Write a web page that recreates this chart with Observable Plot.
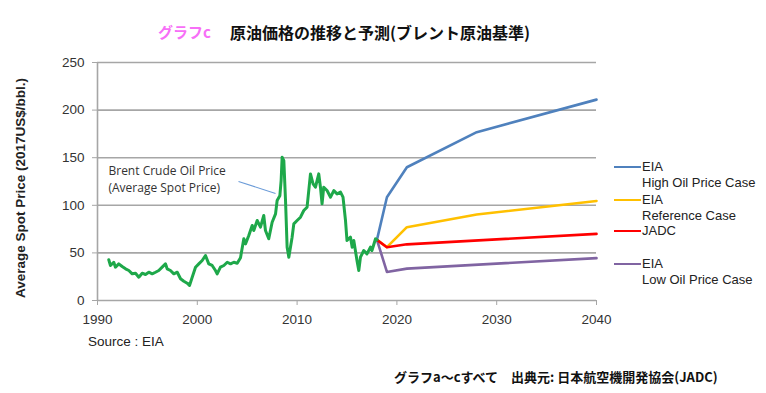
<!DOCTYPE html>
<html>
<head>
<meta charset="utf-8">
<script src="https://cdn.jsdelivr.net/npm/d3@7"></script>
<script src="https://cdn.jsdelivr.net/npm/@observablehq/plot@0.6"></script>
<style>
  html, body { margin: 0; padding: 0; background: #fff; }
  #wrap { position: relative; width: 766px; height: 393px; overflow: hidden; }
  #wrap svg { position: absolute; left: 0; top: 0; }
  .abs { position: absolute; white-space: nowrap; }
  .ttl { font-family: "Noto Sans CJK JP", sans-serif; font-weight: bold; }
  .leg { font-family: "Liberation Sans", Arial, sans-serif; font-size: 13px; color: #222; line-height: 15.5px; }
</style>
</head>
<body>
<div id="wrap"></div>
<script>
// ---- data ----
const brentYears = [1991.13,1991.30,1991.63,1991.80,1992.13,1992.47,1992.81,1993.14,1993.48,1993.81,1994.14,1994.48,1994.81,1995.14,1995.48,1995.81,1996.14,1996.48,1996.81,1996.98,1997.31,1997.65,1997.99,1998.32,1998.65,1998.99,1999.22,1999.49,1999.82,2000.15,2000.49,2000.82,2001.15,2001.49,2001.82,2001.99,2002.32,2002.66,2003.00,2003.33,2003.66,2004.00,2004.33,2004.66,2004.83,2005.16,2005.5,2005.66,2006.0,2006.33,2006.66,2006.83,2007.16,2007.5,2007.84,2008.0,2008.27,2008.4,2008.5,2008.67,2008.84,2009.0,2009.17,2009.5,2009.67,2010.0,2010.34,2010.67,2011.0,2011.34,2011.6,2011.84,2012.17,2012.34,2012.5,2012.67,2013.0,2013.35,2013.68,2014.0,2014.35,2014.6,2014.85,2015.0,2015.35,2015.52,2015.68,2016.0,2016.18,2016.35,2016.68,2017.0,2017.35,2017.5,2017.86,2018.0];
const brentValues = [42.8,36.8,40.2,35.0,38.5,35.7,33.3,31.5,28.0,28.7,24.5,28.7,27.3,29.7,28.0,29.7,31.5,35.0,38.5,33.3,31.5,28.0,29.7,22.8,20.3,18.2,15.8,24.5,35.0,38.5,42.0,47.3,38.5,36.8,31.5,28.0,35.0,36.8,40.2,38.5,40.2,39.2,45,64.8,59.5,68.3,78.8,73.5,84,77,89.3,73.5,64.8,82.2,91,105,110,126,150.5,147,105,56,45.5,66.5,80.5,84,87.5,94.5,98,133,122.6,119,133,119,101.6,119,115.5,108.5,115.5,112,113.8,108.5,84,63,66.5,56,63,42,31.5,45.5,52.5,49,56,52.5,64.8,63.7];

const projYears = {
  high: [2018, 2019, 2021, 2028, 2040],
  ref:  [2018, 2019, 2021, 2028, 2040],
  jadc: [2018, 2019, 2021, 2040],
  low:  [2018, 2019, 2021, 2040]
};
const highValues = [63.7, 108.5, 140, 176.8, 211];
const refValues  = [63.7, 56, 77, 90.3, 104.5];
const jadcValues = [63.7, 56, 59, 70];
const lowValues  = [63.7, 30, 33.5, 44.5];

const seriesNames = ["EIA\nHigh Oil Price Case", "EIA\nReference Case", "JADC", "EIA\nLow Oil Price Case"];
const seriesColors = ["#4f81bd", "#ffc000", "#ff0000", "#8064a2"];

const xTicks = [1990, 2000, 2010, 2020, 2030, 2040];
const yTicks = [0, 50, 100, 150, 200, 250];

const annotationText = ["Brent Crude Oil Price\n(Average Spot Price)"];
const annotationAt = {x: 1991.1, y: 128.5};
const pointer = [{x1: 2004.13, y1: 125, x2: 2007.84, y2: 112.4}];

// ---- tables ----
const brent = brentYears.map((x, i) => ({x, y: brentValues[i]}));
const mk = (ys, vs) => ys.map((x, i) => ({x, y: vs[i]}));
const high = mk(projYears.high, highValues);
const ref = mk(projYears.ref, refValues);
const jadc = mk(projYears.jadc, jadcValues);
const low = mk(projYears.low, lowValues);

const chart = Plot.plot({
  width: 766,
  height: 393,
  marginLeft: 97,
  marginRight: 170,
  marginTop: 62,
  marginBottom: 93,
  style: {fontFamily: "'Liberation Sans', Arial, sans-serif", fontSize: "13px", background: "transparent"},
  x: {domain: [1990, 2040]},
  y: {domain: [0, 250]},
  marks: [
    Plot.gridY(yTicks.slice(1), {stroke: "#a6a6a6", strokeOpacity: 1, strokeWidth: 1.6}),
    Plot.ruleY([0], {stroke: "#a6a6a6", strokeWidth: 1.6}),
    Plot.ruleX([1990], {stroke: "#a6a6a6", strokeWidth: 1.6}),
    Plot.axisY({ticks: yTicks, tickSize: 5, tickPadding: 8, stroke: "#a6a6a6", fill: "#333", fontSize: 13.5, label: null}),
    Plot.axisX({ticks: xTicks, tickSize: 5, tickPadding: 9, stroke: "#a6a6a6", fill: "#333", fontSize: 13.5, tickFormat: d => String(d), label: null}),
    Plot.line(ref, {x: "x", y: "y", stroke: seriesColors[1], strokeWidth: 2.6}),
    Plot.line(high, {x: "x", y: "y", stroke: seriesColors[0], strokeWidth: 2.6}),
    Plot.line(low, {x: "x", y: "y", stroke: seriesColors[3], strokeWidth: 2.6}),
    Plot.line(jadc, {x: "x", y: "y", stroke: seriesColors[2], strokeWidth: 2.6}),
    Plot.line(brent, {x: "x", y: "y", stroke: "#1ea84a", strokeWidth: 3, strokeLinejoin: "round"}),
    Plot.link(pointer, {x1: "x1", y1: "y1", x2: "x2", y2: "y2", stroke: "#6a9bd8", strokeWidth: 1.1}),
    Plot.text(annotationText, {x: () => annotationAt.x, y: () => annotationAt.y, text: d => d, textAnchor: "start", lineAnchor: "middle", lineHeight: 1.45, fontSize: 12, fill: "#333", fontFamily: "'Open Sans', sans-serif"})
  ]
});

const wrap = document.getElementById("wrap");
wrap.appendChild(chart);

function addDiv(html, cls, style) {
  const d = document.createElement("div");
  d.className = "abs " + cls;
  d.innerHTML = html;
  Object.assign(d.style, style);
  wrap.appendChild(d);
  return d;
}

// titles
addDiv("グラフc", "ttl", {left: "158px", top: "21px", fontSize: "15px", color: "#f76ff7", lineHeight: "22px"});
addDiv("原油価格の推移と予測(ブレント原油基準)", "ttl", {left: "230px", top: "21px", fontSize: "16px", color: "#111", lineHeight: "22px"});

// y axis title
addDiv("Average Spot Price (2017US$/bbl.)", "", {
  left: "20px", top: "188px", fontFamily: "'Liberation Sans', Arial, sans-serif", fontWeight: "bold",
  fontSize: "13.5px", color: "#222", transform: "translate(-50%, -50%) rotate(-90deg)"
});

// source
addDiv("Source : EIA", "leg", {left: "88px", top: "334px", fontSize: "13.5px"});

// bottom caption
addDiv("グラフa〜cすべて　出典元: 日本航空機開発協会(JADC)", "ttl", {left: "394px", top: "368px", fontSize: "13px", color: "#111", lineHeight: "18px"});

// legend
const legendTops = [159, 192, 223, 256];
seriesNames.forEach((name, i) => {
  const t = legendTops[i];
  const sw = document.createElement("div");
  sw.className = "abs";
  Object.assign(sw.style, {left: "614px", top: (t + 6.5) + "px", width: "27px", height: "2.6px", background: seriesColors[i]});
  wrap.appendChild(sw);
  addDiv(name.replace("\n", "<br>"), "leg", {left: "642px", top: t + "px"});
});
</script>
</body>
</html>
